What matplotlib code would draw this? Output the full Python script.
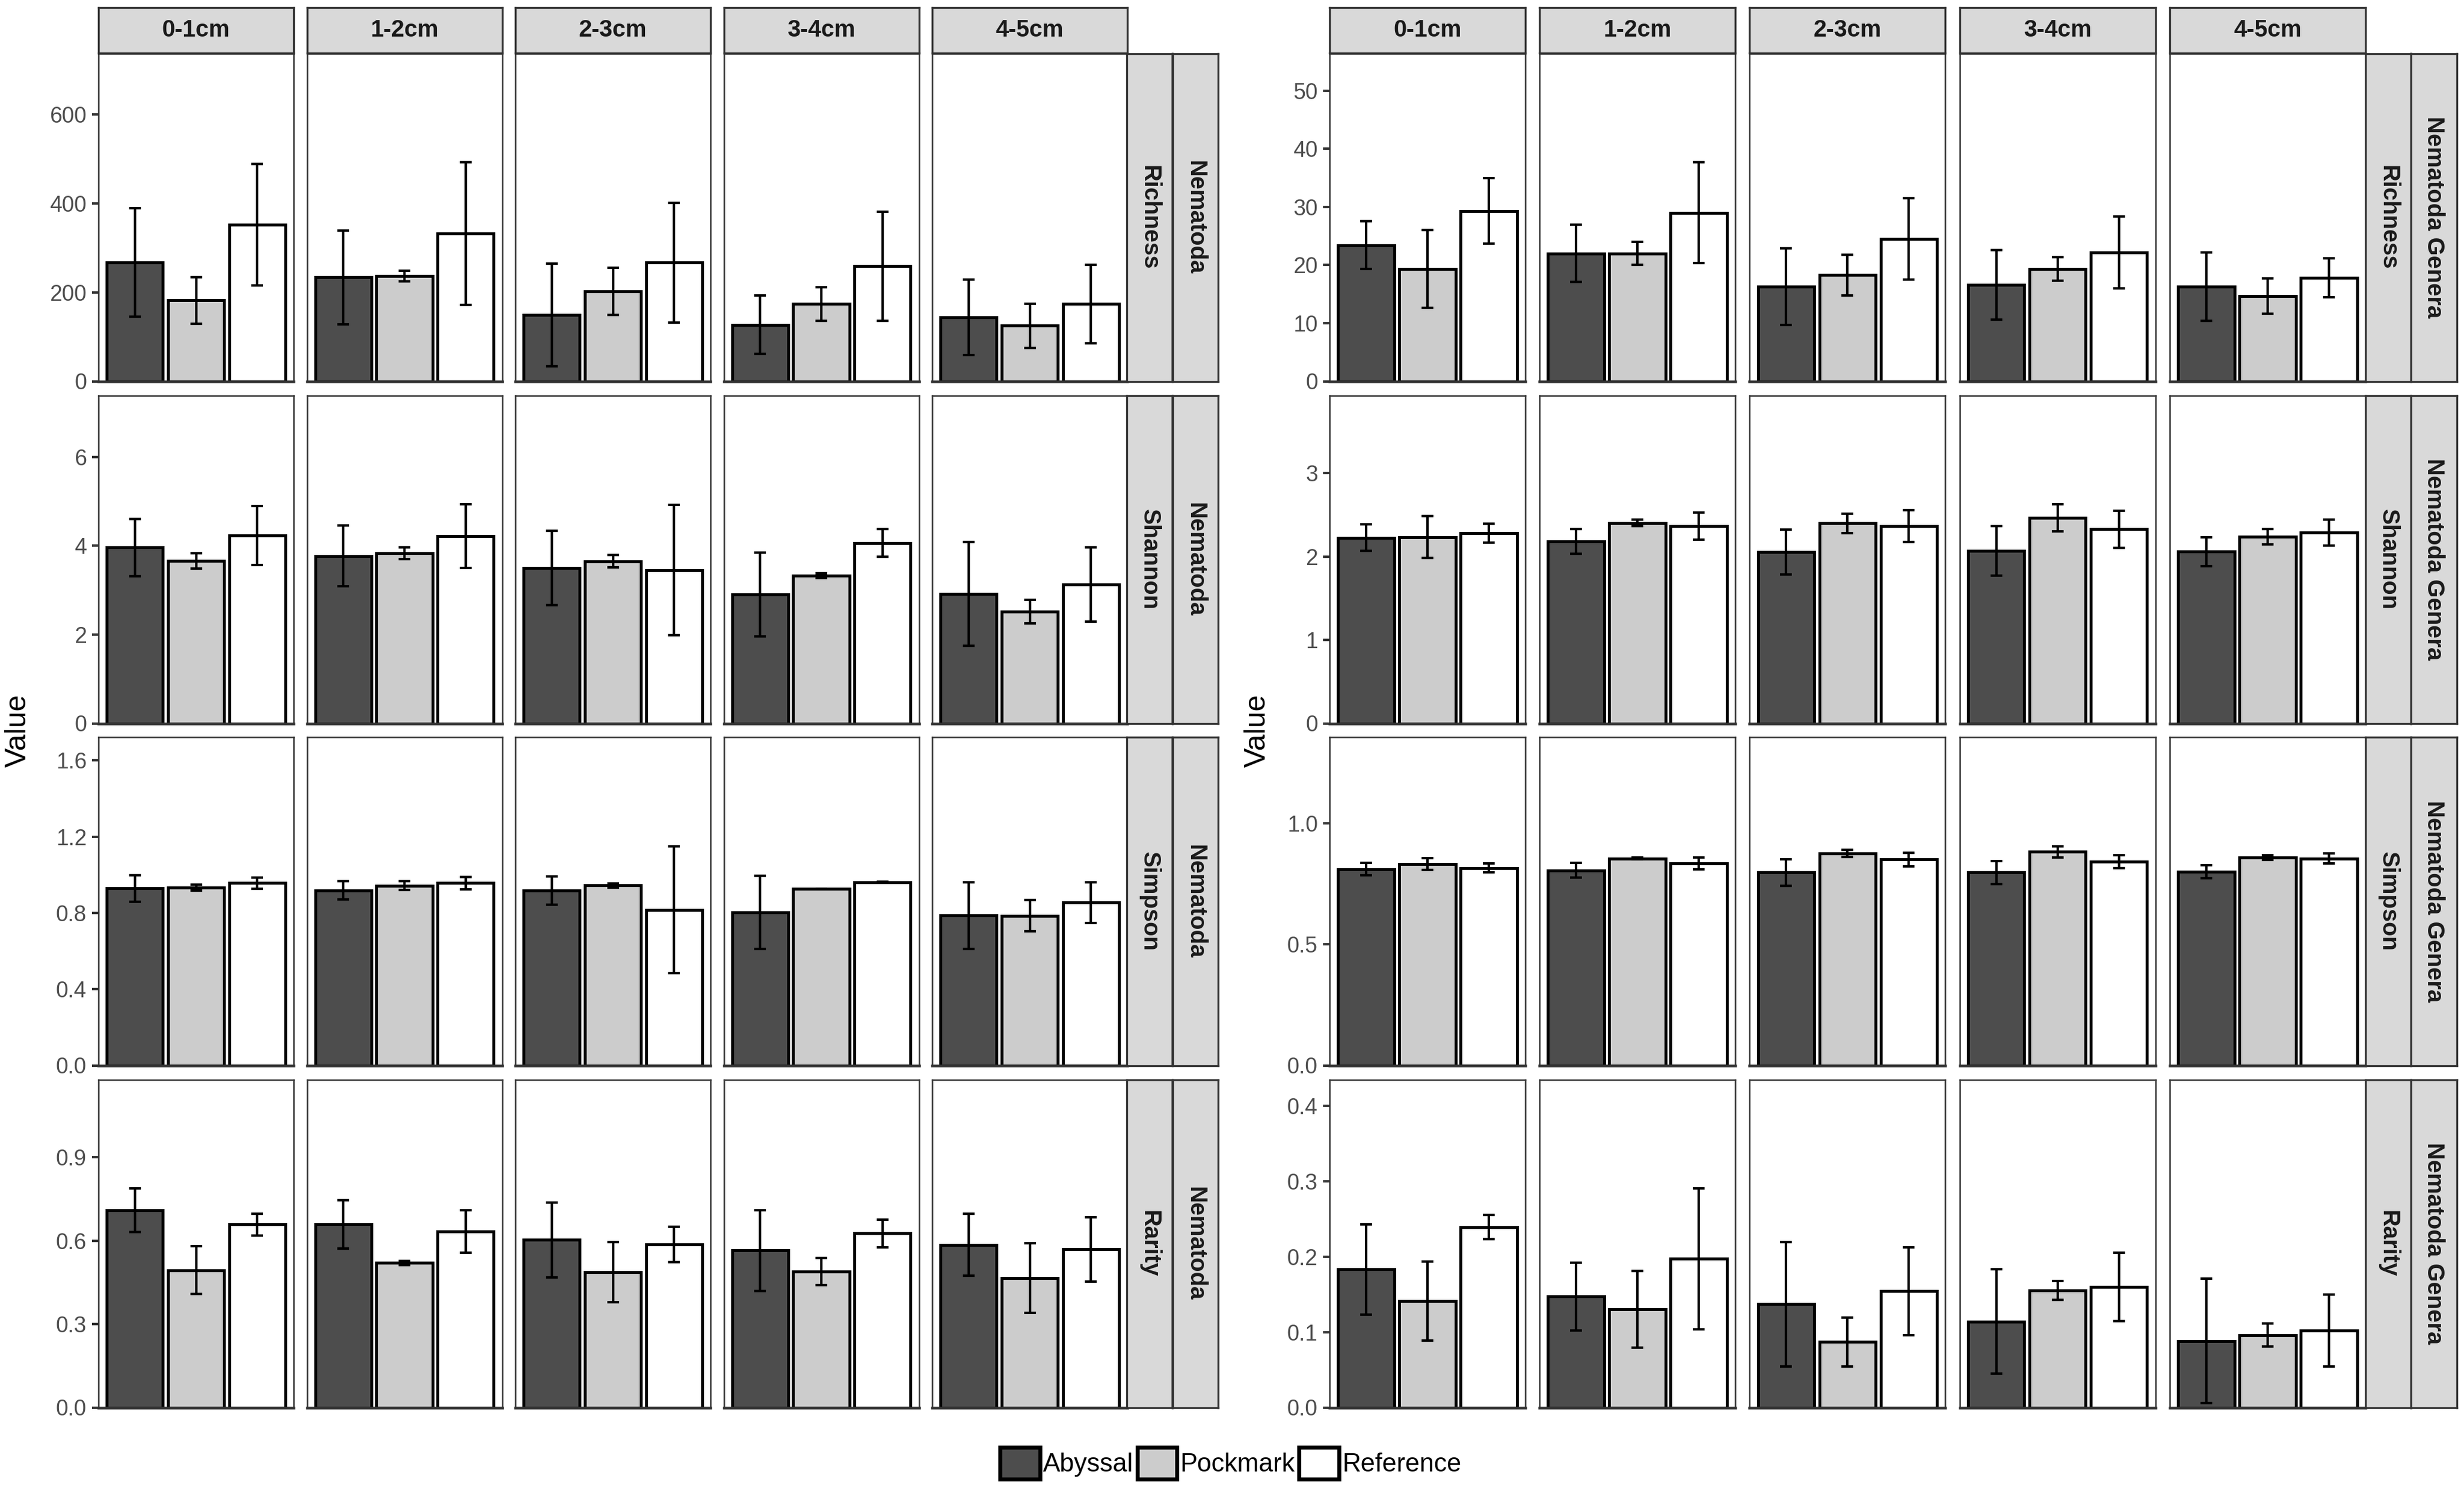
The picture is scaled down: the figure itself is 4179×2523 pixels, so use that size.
import numpy as np
import matplotlib.pyplot as plt
from matplotlib.patches import Patch

plt.rcParams['font.family'] = ['Liberation Sans', 'DejaVu Sans']

# ---- data ----
depths = ['0-1cm', '1-2cm', '2-3cm', '3-4cm', '4-5cm']
sites = ['Abyssal', 'Pockmark', 'Reference']
site_colors = ['#4D4D4D', '#CCCCCC', '#FFFFFF']

# rows: one depth per row, columns: Abyssal, Pockmark, Reference
nem_richness = [[268, 182, 352], [234, 237, 333], [149, 202, 267], [127, 174, 259], [144, 125, 174]]
nem_richness_err = [[122, 52.5, 136.5], [105.5, 11.5, 160.5], [115.5, 53, 134.5], [65.5, 38, 122.5], [85, 49.5, 88]]
nem_shannon = [[3.96, 3.66, 4.23], [3.77, 3.83, 4.22], [3.50, 3.65, 3.45], [2.90, 3.33, 4.06], [2.91, 2.52, 3.13]]
nem_shannon_err = [[0.645, 0.175, 0.665], [0.68, 0.13, 0.715], [0.84, 0.14, 1.465], [0.945, 0.05, 0.31], [1.17, 0.265, 0.835]]
nem_simpson = [[0.929, 0.932, 0.956], [0.918, 0.943, 0.957], [0.916, 0.944, 0.816], [0.803, 0.927, 0.962], [0.787, 0.785, 0.854]]
nem_simpson_err = [[0.07, 0.016, 0.029], [0.0485, 0.0235, 0.0325], [0.074, 0.011, 0.3325], [0.192, 0.0, 0.0025], [0.175, 0.0815, 0.1075]]
nem_rarity = [[0.710, 0.494, 0.658], [0.659, 0.520, 0.633], [0.603, 0.487, 0.587], [0.565, 0.489, 0.627], [0.585, 0.466, 0.569]]
nem_rarity_err = [[0.078, 0.086, 0.040], [0.0875, 0.0065, 0.0765], [0.1345, 0.1075, 0.0645], [0.145, 0.0485, 0.050], [0.1115, 0.1255, 0.1165]]

gen_richness = [[23.4, 19.3, 29.3], [22.0, 22.0, 29.0], [16.3, 18.3, 24.5], [16.6, 19.3, 22.2], [16.3, 14.7, 17.8]]
gen_richness_err = [[4.1, 6.7, 5.65], [4.9, 1.95, 8.7], [6.6, 3.5, 7.0], [6.0, 2.05, 6.2], [5.9, 3.05, 3.3]]
gen_shannon = [[2.226, 2.231, 2.280], [2.183, 2.402, 2.364], [2.053, 2.397, 2.364], [2.069, 2.464, 2.326], [2.058, 2.237, 2.286]]
gen_shannon_err = [[0.16, 0.25, 0.115], [0.148, 0.037, 0.165], [0.267, 0.114, 0.191], [0.297, 0.16, 0.224], [0.174, 0.089, 0.156]]
gen_simpson = [[0.812, 0.832, 0.817], [0.807, 0.856, 0.835], [0.798, 0.877, 0.852], [0.798, 0.883, 0.843], [0.802, 0.860, 0.856]]
gen_simpson_err = [[0.025, 0.0245, 0.0185], [0.0305, 0.0035, 0.024], [0.0545, 0.015, 0.028], [0.047, 0.0235, 0.026], [0.0265, 0.010, 0.021]]
gen_rarity = [[0.183, 0.141, 0.239], [0.147, 0.130, 0.197], [0.137, 0.087, 0.154], [0.114, 0.155, 0.160], [0.088, 0.096, 0.102]]
gen_rarity_err = [[0.0595, 0.0525, 0.016], [0.045, 0.051, 0.0935], [0.0825, 0.0325, 0.058], [0.069, 0.0125, 0.0455], [0.0825, 0.015, 0.0475]]

indices = ['Richness', 'Shannon', 'Simpson', 'Rarity']

# axis setup per row (limits, ticks, tick labels)
left_ylim = [738, 7.385, 1.72, 1.18]
left_ticks = [[0, 200, 400, 600], [0, 2, 4, 6], [0, 0.4, 0.8, 1.2, 1.6], [0, 0.3, 0.6, 0.9]]
left_ticklabels = [['0', '200', '400', '600'], ['0', '2', '4', '6'],
                   ['0.0', '0.4', '0.8', '1.2', '1.6'], ['0.0', '0.3', '0.6', '0.9']]
right_ylim = [56.4, 3.93, 1.356, 0.4346]
right_ticks = [[0, 10, 20, 30, 40, 50], [0, 1, 2, 3], [0, 0.5, 1.0], [0, 0.1, 0.2, 0.3, 0.4]]
right_ticklabels = [['0', '10', '20', '30', '40', '50'], ['0', '1', '2', '3'],
                    ['0.0', '0.5', '1.0'], ['0.0', '0.1', '0.2', '0.3', '0.4']]

# ---- layout (pixels) ----
W, H = 4179, 2523
fig = plt.figure(figsize=(W / 300, H / 300), dpi=300)


def box(x0, y0, w, h):
    return [x0 / W, 1 - (y0 + h) / H, w / W, h / H]


row_top = [90.5, 670.5, 1250.5, 1830.5]
row_h = 556
edge = '#333333'
strip_fill = '#D9D9D9'


def strip(x0, y0, w, h, label, rot=0):
    s = fig.add_axes(box(x0, y0, w, h))
    s.set_facecolor(strip_fill)
    s.set_xticks([])
    s.set_yticks([])
    for sp in s.spines.values():
        sp.set_color(edge)
        sp.set_linewidth(0.8)
    s.text(0.5, 0.5, label, transform=s.transAxes, ha='center', va='center',
           rotation=rot, fontsize=9.6, fontweight='bold', color='#1A1A1A')
    return s


def draw_block(x0, pitch, pw, s1, sw, group, means, errs, ylims, ticks, ticklabels):
    xs = np.array([-0.31, 0.0, 0.31])
    for c, d in enumerate(depths):
        strip(x0 + c * pitch, 12.5, pw, 77, d)
    for r in range(4):
        m = np.array(means[r])
        e = np.array(errs[r])
        for c in range(5):
            ax = fig.add_axes(box(x0 + c * pitch, row_top[r], pw, row_h))
            ax.bar(xs, m[c], width=0.285, color=site_colors, edgecolor='black',
                   linewidth=1.2, zorder=2)
            ax.errorbar(xs, m[c], yerr=e[c], fmt='none', ecolor='black',
                        elinewidth=1.0, capsize=2.4, capthick=1.0, zorder=3)
            ax.set_xlim(-0.495, 0.495)
            ax.set_ylim(0, ylims[r])
            ax.set_xticks([])
            for name, sp in ax.spines.items():
                sp.set_color(edge)
                sp.set_linewidth(0.6)
            ax.spines['bottom'].set_linewidth(1.1)
            if c == 0:
                ax.set_yticks(ticks[r])
                ax.set_yticklabels(ticklabels[r])
                ax.tick_params(axis='y', length=2.6, width=1.0, color=edge,
                               labelcolor='#4D4D4D', labelsize=9, pad=2.2)
            else:
                ax.set_yticks([])
        strip(s1, row_top[r], sw, row_h, indices[r], rot=270)
        strip(s1 + sw, row_top[r], sw, row_h, group, rot=270)


draw_block(167, 353.5, 331, 1911, 77.5, 'Nematoda',
           [nem_richness, nem_shannon, nem_simpson, nem_rarity],
           [nem_richness_err, nem_shannon_err, nem_simpson_err, nem_rarity_err],
           left_ylim, left_ticks, left_ticklabels)
draw_block(2255, 356.2, 332, 4012, 77.3, 'Nematoda Genera',
           [gen_richness, gen_shannon, gen_simpson, gen_rarity],
           [gen_richness_err, gen_shannon_err, gen_simpson_err, gen_rarity_err],
           right_ylim, right_ticks, right_ticklabels)

fig.text(31 / W, 1 - 1239 / H, 'Value', rotation=90, fontsize=12,
         ha='center', va='center', color='black')
fig.text(2133 / W, 1 - 1239 / H, 'Value', rotation=90, fontsize=12,
         ha='center', va='center', color='black')

handles = [Patch(facecolor=col, edgecolor='black', linewidth=1.6, label=s)
           for s, col in zip(sites, site_colors)]
fig.legend(handles=handles, loc='center', bbox_to_anchor=(2087 / W, 1 - 2481 / H),
           ncol=3, frameon=False, fontsize=10.5, handlelength=1.55, handleheight=1.55,
           handletextpad=0.12, columnspacing=0.15, borderpad=0)

fig.savefig('out.png', dpi=300)
